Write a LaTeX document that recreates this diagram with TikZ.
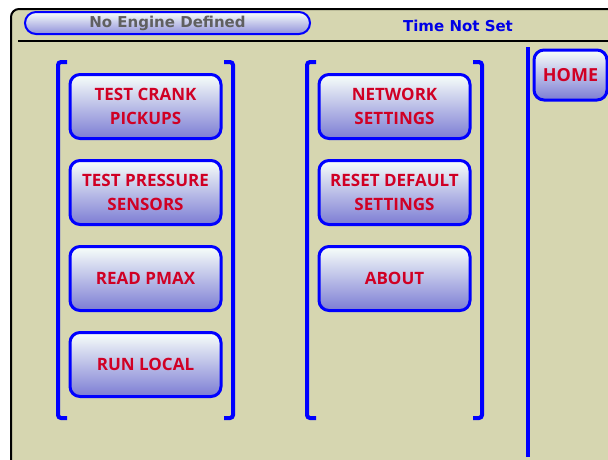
\documentclass[tikz,border=0pt]{standalone}
\usepackage{fontspec}
\newfontfamily\btnfamily{Open Sans}
\newfontfamily\hdrfamily{DejaVu Sans}
\definecolor{panelbg}{RGB}{214,214,176}
\definecolor{btnred}{RGB}{208,0,36}
\definecolor{btnlow}{RGB}{124,124,212}
\definecolor{btnhigh}{RGB}{248,255,250}
\definecolor{hdrgray}{RGB}{96,96,96}
\definecolor{hdrblue}{RGB}{0,0,230}
\tikzset{
  menubtn/.style={draw=blue, line width=3pt, rounded corners=10pt,
    top color=btnhigh, bottom color=btnlow, text=btnred,
    font=\btnfamily\bfseries\fontsize{17}{24.3}\selectfont, align=center,
    minimum width=151pt, minimum height=64pt, inner sep=0pt},
  bracketline/.style={draw=blue, line width=4pt, rounded corners=3pt},
  rule/.style={draw=black, line width=2pt},
  hdrtext/.style={font=\hdrfamily\bfseries\fontsize{15}{17}\selectfont},
}
\begin{document}
\begin{tikzpicture}[x=1pt, y=-1pt]
  \useasboundingbox (0,0) rectangle (608,459);
  % panel with border on top and left, only the top-left corner rounded
  \fill[panelbg] (11,470) [rounded corners=8pt] -- (11,9) -- (620,9) [sharp corners] -- (620,470) -- cycle;
  \draw[rule] (11,470) [rounded corners=8pt] -- (11,9) -- (620,9);
  \draw[rule] (18,41) -- (608,41);

  % header status pill and clock
  \path[draw=blue, line width=2pt, rounded corners=11pt, top color=btnhigh, bottom color=btnlow!85!white]
    (25,12) rectangle (310,34);
  \node[hdrtext, text=hdrgray, anchor=base] (engine) at (167.5,27.3) {No Engine Defined};
  \node[hdrtext, text=hdrblue, anchor=base] (clock) at (458,31.3) {Time Not Set};

  % left column
  \node[menubtn] (crank) at (145.5,106.5) {TEST CRANK\\PICKUPS};
  \node[menubtn] (press) at (145.5,192.5) {TEST PRESSURE\\SENSORS};
  \node[menubtn] (pmax)  at (145.5,278.5) {READ PMAX};
  \node[menubtn] (local) at (145.5,364.5) {RUN LOCAL};

  % middle column
  \node[menubtn] (net)   at (394.5,106.5) {NETWORK\\SETTINGS};
  \node[menubtn] (reset) at (394.5,192.5) {RESET DEFAULT\\SETTINGS};
  \node[menubtn] (about) at (394.5,278.5) {ABOUT};

  % home button
  \node[menubtn, minimum width=73pt, minimum height=50pt, font=\btnfamily\bfseries\fontsize{18}{22}\selectfont] (home) at (570.5,75) {HOME};

  % group brackets
  \draw[bracketline] (67,62) -- (58,62) -- (58,418) -- (67,418);
  \draw[bracketline] (224,62) -- (233,62) -- (233,418) -- (224,418);
  \draw[bracketline] (316,62) -- (307,62) -- (307,418) -- (316,418);
  \draw[bracketline] (473,62) -- (482,62) -- (482,418) -- (473,418);

  % divider before the home button
  \draw[draw=blue, line width=3.5pt] (528,47) -- (528,457);
\end{tikzpicture}
\end{document}
